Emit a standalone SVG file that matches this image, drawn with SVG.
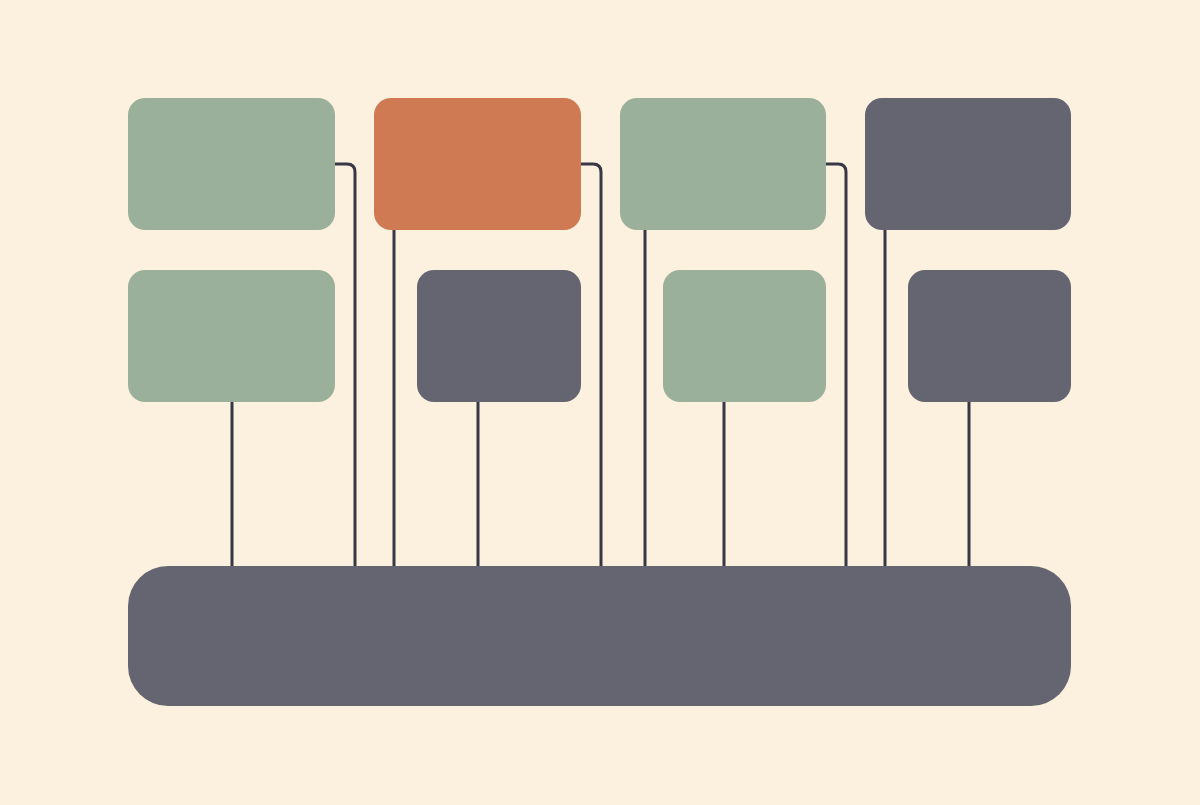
<svg xmlns="http://www.w3.org/2000/svg" width="1200" height="805" viewBox="0 0 1200 805">
<style>
.g{fill:#9bb09a}.o{fill:#d07a53}.d{fill:#656572}
.c{fill:none;stroke:#363846;stroke-width:3;stroke-linecap:butt}
</style>
<rect width="1200" height="805" fill="#fcf0df"/>
<g id="connectors">
<path class="c" d="M335 164 H347 Q355 164 355 172 V567"/>
<path class="c" d="M581 164 H593 Q601 164 601 172 V567"/>
<path class="c" d="M826 164 H838 Q846 164 846 172 V567"/>
<path class="c" d="M394 229 V567"/>
<path class="c" d="M645 229 V567"/>
<path class="c" d="M885 229 V567"/>
<path class="c" d="M232 401 V567"/>
<path class="c" d="M478 401 V567"/>
<path class="c" d="M724 401 V567"/>
<path class="c" d="M969 401 V567"/>
</g>
<g id="n1"><rect class="g" x="128" y="98" width="207" height="132" rx="17"/></g>
<g id="n2"><rect class="o" x="374" y="98" width="207" height="132" rx="17"/></g>
<g id="n3"><rect class="g" x="620" y="98" width="206" height="132" rx="17"/></g>
<g id="n4"><rect class="d" x="865" y="98" width="206" height="132" rx="17"/></g>
<g id="n5"><rect class="g" x="128" y="270" width="207" height="132" rx="17"/></g>
<g id="n6"><rect class="d" x="417" y="270" width="164" height="132" rx="17"/></g>
<g id="n7"><rect class="g" x="663" y="270" width="163" height="132" rx="17"/></g>
<g id="n8"><rect class="d" x="908" y="270" width="163" height="132" rx="17"/></g>
<g id="bus"><rect class="d" x="128" y="566" width="943" height="140" rx="40"/></g>
</svg>
